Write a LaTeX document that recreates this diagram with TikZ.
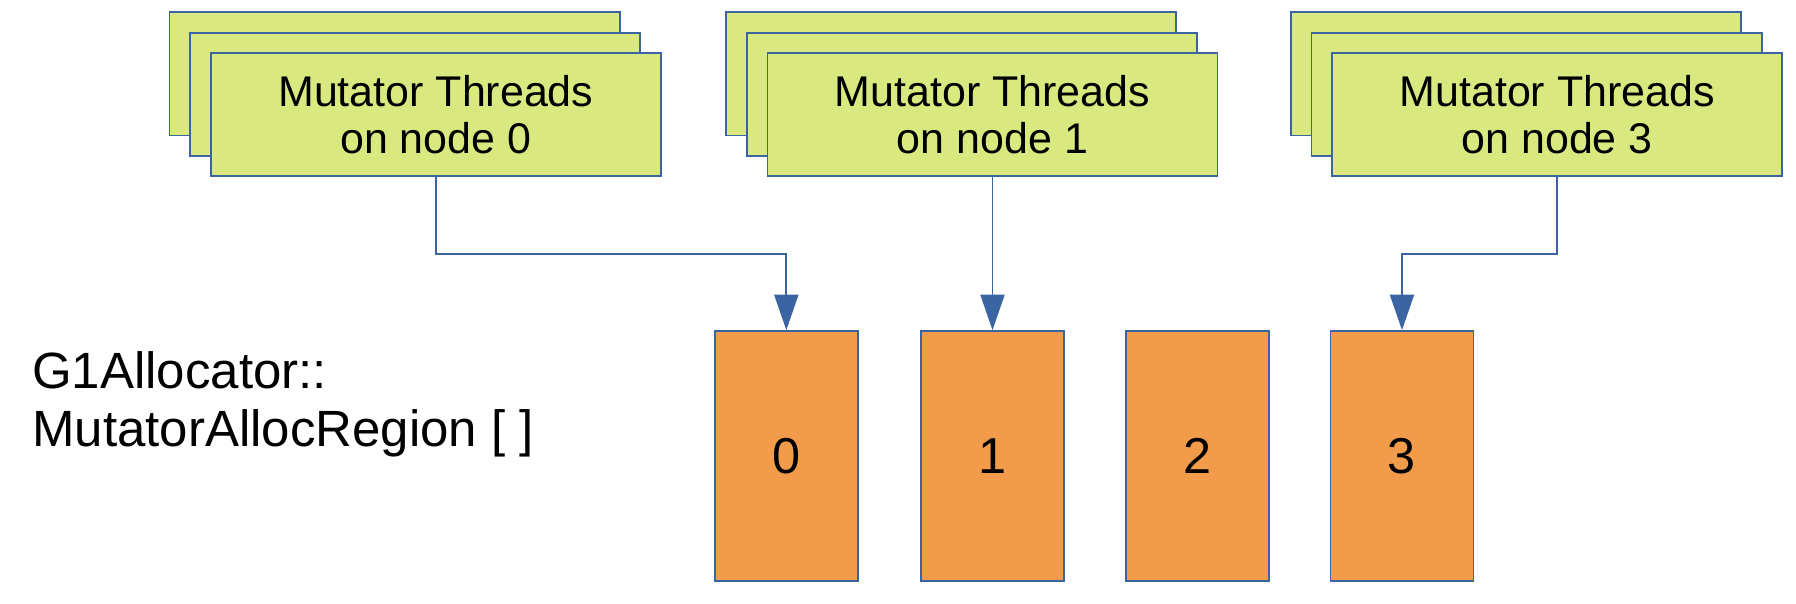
\documentclass[tikz,border=0pt]{standalone}
\usepackage{fontspec}
\setmainfont{Liberation Sans}
\usetikzlibrary{arrows.meta}
\definecolor{threadgreen}{RGB}{218,232,128}
\definecolor{regionorange}{RGB}{242,155,74}
\definecolor{lineblue}{RGB}{58,100,162}
\tikzstyle{threads}=[draw=lineblue, line width=1.5pt, fill=threadgreen, minimum width=393pt, minimum height=107.5pt, inner sep=0pt, align=center, font=\fontsize{37.5}{41.5}\selectfont]
\tikzstyle{region}=[draw=lineblue, line width=1.5pt, fill=regionorange, minimum width=125pt, minimum height=218pt, inner sep=0pt, font=\fontsize{44}{50}\selectfont]
\tikzstyle{link}=[draw=lineblue, line width=1.5pt, -{Triangle[length=31pt,width=21pt]}]
\newcommand{\threads}{\node[threads]}
\newcommand{\region}{\node[region]}

\begin{document}
\begin{tikzpicture}[x=1pt,y=-1pt]
            \path[use as bounding box] (0,0) rectangle (1568,527);
            % thread stacks
            \threads (thr0back) at (344.5,64.5){};
            \threads (thr0mid) at (362.5,82.5){};
            \threads (thr0) at (380.5,100){Mutator Threads\\on node 0};
            \threads (thr1back) at (830.5,64.5){};
            \threads (thr1mid) at (848.5,82.5){};
            \threads (thr1) at (866.5,100){Mutator Threads\\on node 1};
            \threads (thr3back) at (1323.5,64.5){};
            \threads (thr3mid) at (1341.5,82.5){};
            \threads (thr3) at (1359.5,100){Mutator Threads\\on node 3};
            % regions
            \node[anchor=west, inner sep=0pt, align=left, font=\fontsize{44.5}{50.6}\selectfont] (label) at (28,353){G1Allocator::\\MutatorAllocRegion [ ]};
            \region (reg0) at (686.5,398){0};
            \region (reg1) at (866.5,398){1};
            \region (reg2) at (1045.5,398){2};
            \region (reg3) at (1224,398){3};
            \draw[link] (thr0.south) -- ++(0,67) -| (reg0.north);
            \draw[link] (thr1.south) -- (reg1.north);
            \draw[link] (thr3.south) -- ++(0,67) -| (reg3.north);
        \end{tikzpicture}
\end{document}
